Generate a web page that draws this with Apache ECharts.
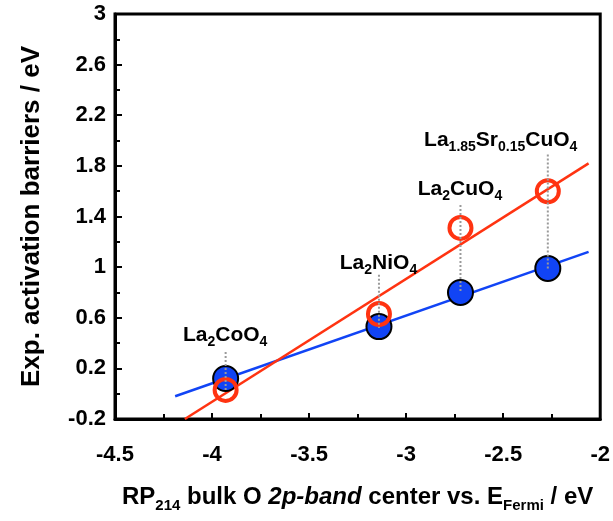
<!DOCTYPE html>
<html>
<head>
<meta charset="utf-8">
<script src="https://cdn.jsdelivr.net/npm/echarts@6/dist/echarts.min.js"></script>
<style>
  html, body { margin: 0; padding: 0; background: #fff; }
  #main { width: 613px; height: 521px; }
</style>
</head>
<body>
<div id="main"></div>
<script>
// RP214 O 2p-band center vs. activation barriers
const compounds = ['La2CoO4', 'La2NiO4', 'La2CuO4', 'La1.85Sr0.15CuO4'];
const labelText = [
  '{m|La}{s|2}{m|CoO}{s|4}',
  '{m|La}{s|2}{m|NiO}{s|4}',
  '{m|La}{s|2}{m|CuO}{s|4}',
  '{m|La}{s|1.85}{m|Sr}{s|0.15}{m|CuO}{s|4}'
];
const bandCenter = [-3.93, -3.14, -2.72, -2.27];
const barrierBlue = [0.12, 0.53, 0.80, 0.99];
const barrierRed = [0.03, 0.63, 1.31, 1.60];

// fitted lines (end points)
const blueFitX = [-4.19, -2.06];
const blueFitY = [-0.02, 1.12];
const redFitX = [-4.14, -2.06];
const redFitY = [-0.2, 1.82];

// annotation labels + dotted guides
const labelX = [-3.93, -3.14, -2.72, -2.51];
const labelY = [0.46, 1.03, 1.61, 2.0];
const guideTop = [0.33, 0.94, 1.49, 1.89];
const guideBottom = [0.02, 0.52, 0.80, 0.99];

const xTicks = [-4.5, -2, 0.5];   // min, max, interval
const yTicks = [-0.2, 3, 0.4];

const font = "'Liberation Sans', Arial, sans-serif";

(function () {
  var chartDom = document.getElementById('main');
  var myChart = echarts.init(chartDom);

  function pairs(xs, ys) {
    return xs.map(function (x, i) { return [x, ys[i]]; });
  }

  var guideSeries = bandCenter.map(function (x, i) {
    return {
      type: 'line',
      data: [[x, guideTop[i]], [x, guideBottom[i]]],
      symbol: 'none',
      silent: true,
      z: 6,
      lineStyle: { color: '#9a9a9a', width: 2, type: [2, 2] }
    };
  });

  var option = {
    animation: false,
    grid: {
      left: 115,
      right: 10,
      top: 14,
      bottom: 102,
      show: true,
      borderColor: '#000',
      borderWidth: 3
    },
    xAxis: {
      type: 'value',
      min: xTicks[0],
      max: xTicks[1],
      interval: xTicks[2],
      name: '{m|RP}{s|214}{m| bulk O }{i|2p-band}{m| center vs. E}{s|Fermi}{m| / eV}',
      nameLocation: 'middle',
      nameGap: 62,
      nameTextStyle: {
        rich: {
          m: { fontFamily: font, fontWeight: 'bold', fontSize: 24, color: '#000', lineHeight: 32, verticalAlign: 'middle' },
          i: { fontFamily: font, fontWeight: 'bold', fontStyle: 'italic', fontSize: 24, color: '#000', lineHeight: 32, verticalAlign: 'middle' },
          s: { fontFamily: font, fontWeight: 'bold', fontSize: 15, color: '#000', lineHeight: 14, verticalAlign: 'bottom' }
        }
      },
      axisLine: { show: true, onZero: false, lineStyle: { color: '#000', width: 3 } },
      axisTick: { show: true, inside: true, length: 6, lineStyle: { color: '#000', width: 2 } },
      minorTick: { show: true, splitNumber: 2, length: 5, lineStyle: { color: '#000', width: 2 } },
      splitLine: { show: false },
      axisLabel: {
        margin: 25,
        color: '#000',
        fontFamily: font,
        fontWeight: 'bold',
        fontSize: 22,
        formatter: function (v) { return String(v); }
      }
    },
    yAxis: {
      type: 'value',
      min: yTicks[0],
      max: yTicks[1],
      interval: yTicks[2],
      name: 'Exp. activation barriers / eV',
      nameLocation: 'middle',
      nameGap: 70,
      nameTextStyle: { fontFamily: font, fontWeight: 'bold', fontSize: 26, color: '#000' },
      axisLine: { show: true, onZero: false, lineStyle: { color: '#000', width: 3 } },
      axisTick: { show: true, inside: true, length: 7, lineStyle: { color: '#000', width: 2 } },
      minorTick: { show: true, splitNumber: 2, length: 5, lineStyle: { color: '#000', width: 2 } },
      splitLine: { show: false },
      axisLabel: {
        margin: 9,
        color: '#000',
        fontFamily: font,
        fontWeight: 'bold',
        fontSize: 22,
        formatter: function (v) { return String(Math.round(v * 10) / 10); }
      }
    },
    series: [
      {
        type: 'line',
        data: pairs(blueFitX, blueFitY),
        symbol: 'none',
        silent: true,
        z: 2,
        lineStyle: { color: '#1144f5', width: 2.5 }
      },
      {
        type: 'line',
        data: pairs(redFitX, redFitY),
        symbol: 'none',
        silent: true,
        z: 3,
        lineStyle: { color: '#ff3311', width: 2.5 }
      },
      {
        name: 'blue',
        type: 'scatter',
        data: pairs(bandCenter, barrierBlue),
        symbol: 'circle',
        symbolSize: 25,
        z: 4,
        itemStyle: { color: '#1144f5', borderColor: '#000', borderWidth: 2, opacity: 1 }
      },
      {
        name: 'red',
        type: 'scatter',
        data: pairs(bandCenter, barrierRed),
        symbol: 'circle',
        symbolSize: 22,
        z: 5,
        itemStyle: { color: 'rgba(0,0,0,0)', borderColor: '#ff3311', borderWidth: 4, opacity: 1 }
      },
      {
        type: 'scatter',
        data: pairs(labelX, labelY),
        symbolSize: 1,
        silent: true,
        z: 7,
        itemStyle: { color: 'rgba(0,0,0,0)', opacity: 1 },
        label: {
          show: true,
          position: [0, 0],
          align: 'center',
          verticalAlign: 'middle',
          color: '#000',
          opacity: 1,
          textBorderWidth: 0,
          formatter: function (p) { return labelText[p.dataIndex]; },
          rich: {
            m: { fontFamily: font, fontWeight: 'bold', fontSize: 21, color: '#000', textBorderWidth: 0, lineHeight: 28, verticalAlign: 'middle' },
            s: { fontFamily: font, fontWeight: 'bold', fontSize: 14, color: '#000', textBorderWidth: 0, lineHeight: 13, verticalAlign: 'bottom' }
          }
        }
      }
    ].concat(guideSeries)
  };

  option && myChart.setOption(option);

  window.addEventListener('resize', function () {
    myChart.resize();
  });
})();
</script>
</body>
</html>
